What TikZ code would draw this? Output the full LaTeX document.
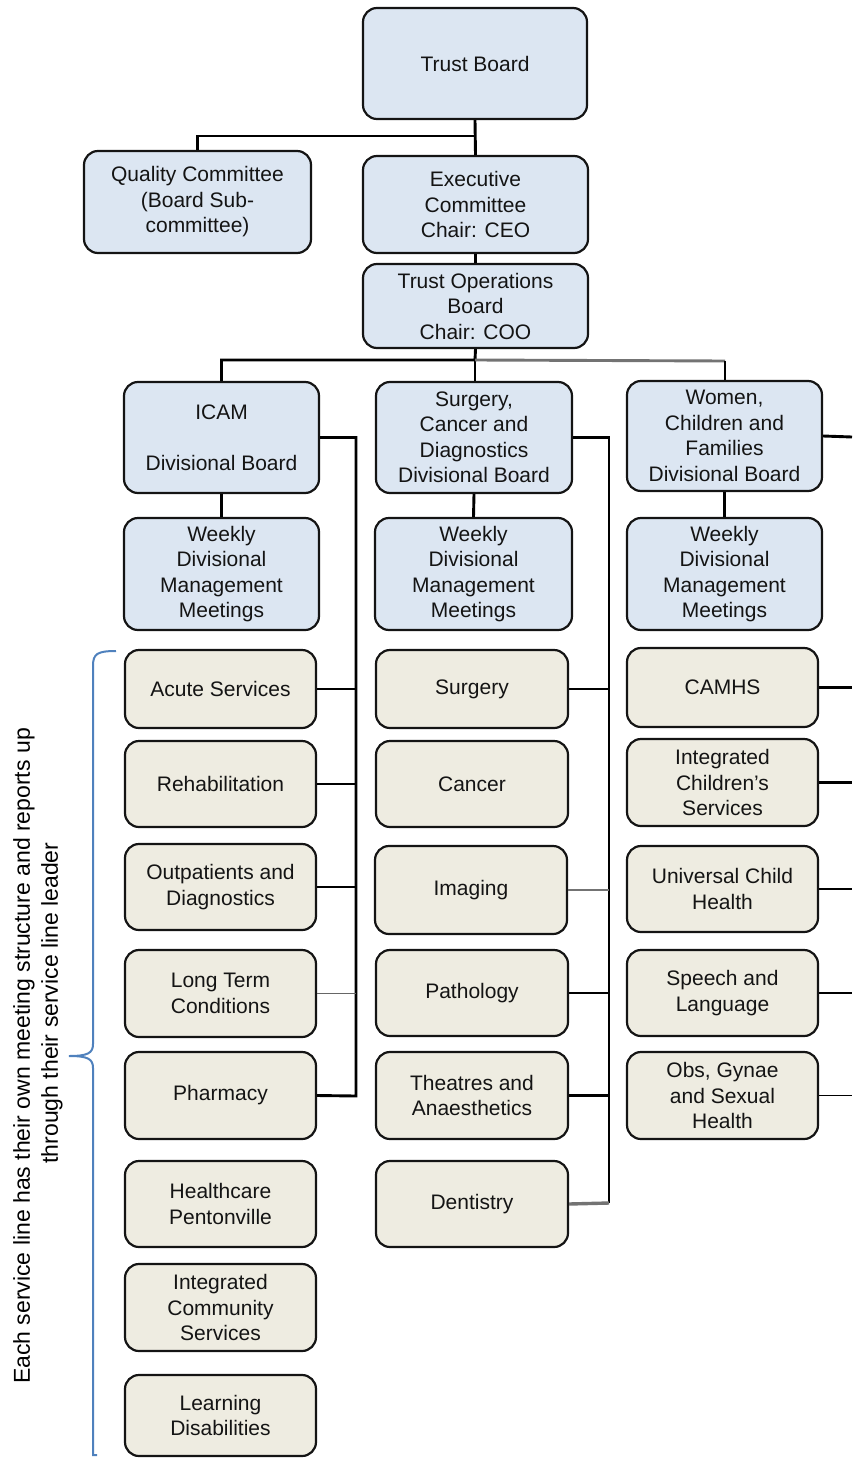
\documentclass[tikz,border=0pt]{standalone}
\usepackage{fontspec}
\setmainfont{Liberation Sans}
\definecolor{boxblue}{HTML}{DCE6F2}
\definecolor{boxtan}{HTML}{EEECE1}
\definecolor{bracecol}{HTML}{4F81BD}
\definecolor{txt}{HTML}{141414}
\begin{document}
\begin{tikzpicture}[x=1pt,y=-1pt,
  box/.style={draw=black!92, line width=2.2pt, rounded corners=14pt, align=center, inner sep=0pt,
              font=\fontsize{21}{25.5}\selectfont, text=txt},
  bluebox/.style={box, fill=boxblue},
  tanbox/.style={box, fill=boxtan},
  sz/.style 2 args={minimum width=#1pt, minimum height=#2pt},
  conn/.style={line width=2.9pt, black},
  grayconn/.style={line width=2.9pt, black!55},
  thinconn/.style={line width=1.4pt, black!60},
  midconn/.style={line width=1.9pt, black},
  note/.style={font=\fontsize{23}{28}\selectfont, text=black, rotate=90, inner sep=0pt}]
\useasboundingbox (0,0) rectangle (852,1458);

% top levels
\node[bluebox, sz={224}{111}] (TB) at (475,63.5) {Trust Board};
\node[bluebox, sz={227}{102}] (QC) at (197.5,202) {Quality Committee\\(Board Sub-\\committee)};
\node[bluebox, sz={225}{97}] (EC) at (475.5,204.5) {Executive\\Committee\\Chair: CEO};
\node[bluebox, sz={225}{84}] (TOB) at (475.5,306) {Trust Operations\\Board\\Chair: COO};

% divisional boards
\node[bluebox, sz={195}{111}] (ICAM) at (221.5,437.5) {ICAM\\\strut\\Divisional Board};
\node[bluebox, sz={196}{111}] (SCD) at (474,437.5) {Surgery,\\Cancer and\\Diagnostics\\Divisional Board};
\node[bluebox, sz={195}{110}] (WCF) at (724.5,436) {Women,\\Children and\\Families\\Divisional Board};

% weekly meetings
\node[bluebox, sz={195}{112}] (W1) at (221.5,574) {Weekly\\Divisional\\Management\\Meetings};
\node[bluebox, sz={197}{112}] (W2) at (473.5,574) {Weekly\\Divisional\\Management\\Meetings};
\node[bluebox, sz={195}{112}] (W3) at (724.5,574) {Weekly\\Divisional\\Management\\Meetings};

% column 1 service lines
\node[tanbox, sz={191}{78}] (acute) at (220.5,689) {Acute Services};
\node[tanbox, sz={191}{86}] (rehab) at (220.5,784) {Rehabilitation};
\node[tanbox, sz={191}{86}] (outp) at (220.5,887) {Outpatients and\\Diagnostics};
\node[tanbox, sz={191}{87}] (ltc) at (220.5,993.5) {Long Term\\Conditions};
\node[tanbox, sz={191}{87}] (pharm) at (220.5,1095.5) {Pharmacy};
\node[tanbox, sz={191}{86}] (hp) at (220.5,1204) {Healthcare\\Pentonville};
\node[tanbox, sz={191}{87}] (ics) at (220.5,1307.5) {Integrated\\Community\\Services};
\node[tanbox, sz={191}{81}] (ld) at (220.5,1415.5) {Learning\\Disabilities};

% column 2 service lines
\node[tanbox, sz={192}{78}] (surg) at (472,689) {Surgery};
\node[tanbox, sz={192}{86}] (canc) at (472,784) {Cancer};
\node[tanbox, sz={192}{88}] (imag) at (471,890) {Imaging};
\node[tanbox, sz={192}{86}] (path) at (472,993) {Pathology};
\node[tanbox, sz={192}{87}] (theat) at (472,1095.5) {Theatres and\\Anaesthetics};
\node[tanbox, sz={192}{86}] (dent) at (472,1204) {Dentistry};

% column 3 service lines
\node[tanbox, sz={191}{79}] (camhs) at (722.5,687.5) {CAMHS};
\node[tanbox, sz={191}{87}] (icsv) at (722.5,782.5) {Integrated\\Children's\\Services};
\node[tanbox, sz={191}{86}] (uch) at (722.5,889) {Universal Child\\Health};
\node[tanbox, sz={191}{86}] (sal) at (722.5,993) {Speech and\\Language};
\node[tanbox, sz={191}{87}] (obs) at (722.5,1095.5) {Obs, Gynae\\and Sexual\\Health};

% connectors: top
\coordinate (j0) at (475,136);
\coordinate (j1) at (475,360);
\coordinate (j2) at (725,361);
\draw[conn] (TB.south) -- (EC.north);
\draw[conn] (j0) -| (QC.north);
\draw[conn] (EC.south) -- (TOB.north);
\draw[conn] (TOB.south) -- (j1) -| (ICAM.north);
\draw[conn] (j1) -- (SCD.north -| j1);
\draw[grayconn] (j1) -- (j2);
\draw[conn] (j2) -- (WCF.north -| j2);

% board to weekly
\draw[conn] (ICAM.south) -- (W1.north);
\draw[conn] (SCD.south) -- (W2.north);
\draw[conn] (WCF.south) -- (W3.north);

% column 1 bus
\coordinate (b1) at (356,1096);
\draw[conn] (ICAM.east) -| (b1) -- (pharm.east);
\draw[conn] (acute.east) -- (acute.east -| b1);
\draw[conn] (rehab.east) -- (rehab.east -| b1);
\draw[conn] (outp.east) -- (outp.east -| b1);
\draw[thinconn] (ltc.east) -- (ltc.east -| b1);

% column 2 bus
\coordinate (b2) at (609,1203);
\draw[conn] (SCD.east) -| (b2);
\draw[conn] (surg.east) -- (surg.east -| b2);
\draw[grayconn] (imag.east) -- (imag.east -| b2);
\draw[conn] (path.east) -- (path.east -| b2);
\draw[conn] (theat.east) -- (theat.east -| b2);
\draw[line width=3.4pt, black!55] (dent.east) -- (b2);

% column 3 branches to the right edge
\coordinate (e3) at (852,437);
\draw[conn] (WCF.east) -- (e3);
\draw[conn] (camhs.east) -- (camhs.east -| e3);
\draw[conn] (icsv.east) -- (icsv.east -| e3);
\draw[midconn] (uch.east) -- (uch.east -| e3);
\draw[midconn] (sal.east) -- (sal.east -| e3);
\draw[midconn] (obs.east) -- (obs.east -| e3);

% brace
\draw[bracecol, line width=2pt]
  (116,651) .. controls (97,651) and (93,654) .. (93,666)
  -- (93,1044) .. controls (93,1053) and (88,1056) .. (69,1056)
  .. controls (88,1056) and (93,1059) .. (93,1068)
  -- (93,1455) -- (97,1455);

% note
\node[note] (n1) at (24,1056) {Each service line has their own meeting structure and reports up};
\node[note] (n2) at (52,1003) {through their service line leader};
\end{tikzpicture}
\end{document}
